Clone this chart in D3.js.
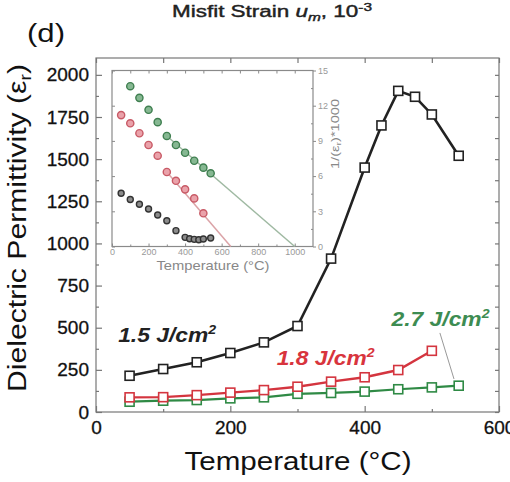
<!DOCTYPE html>
<html>
<head>
<meta charset="utf-8">
<script src="https://cdn.jsdelivr.net/npm/d3@7"></script>
<style>
  body { margin: 0; background: #fff; }
  svg { display: block; font-family: "Liberation Sans", Arial, sans-serif; }
</style>
</head>
<body>
<svg width="510" height="482"></svg>
<script>
// main plot data (temperature in C, dielectric permittivity)
const blackTemp = [50, 100, 150, 200, 250, 300, 350, 400, 425, 450, 475, 500, 540];
const blackEps = [215, 255, 295, 350, 413, 510, 910, 1450, 1700, 1905, 1870, 1765, 1520];
const redTemp = [50, 100, 150, 200, 250, 300, 350, 400, 450, 500];
const redEps = [87, 88, 100, 115, 130, 150, 180, 206, 249, 363];
const greenTemp = [50, 100, 150, 200, 250, 300, 350, 400, 450, 500, 540];
const greenEps = [61, 67, 71, 81, 87, 108, 113, 121, 135, 146, 156];

// inset data: 1000/eps
const insetBlackTemp = [50, 100, 150, 200, 250, 300, 350, 400, 425, 450, 475, 500, 540];
const insetBlackInv = [4.54, 4.0, 3.6, 3.2, 2.68, 2.2, 1.35, 0.78, 0.66, 0.61, 0.58, 0.64, 0.72];
const insetRedTemp = [50, 100, 150, 200, 250, 300, 350, 400, 450, 500];
const insetRedInv = [11.2, 10.5, 9.65, 8.65, 7.74, 6.35, 5.6, 4.87, 4.1, 2.83];
const insetGreenTemp = [100, 150, 200, 250, 300, 350, 400, 450, 500, 540];
const insetGreenInv = [13.66, 12.67, 11.65, 10.6, 9.42, 8.65, 7.99, 7.31, 6.72, 6.24];
const redFit = [[300, 6.35], [650, 0]];
const greenFit = [[300, 9.42], [1000, 0]];

// ticks
const xTicks = [0, 200, 400, 600];
const xMinor = [100, 300, 500];
const yTicks = [0, 250, 500, 750, 1000, 1250, 1500, 1750, 2000];
const yMinor = [125, 375, 625, 875, 1125, 1375, 1625, 1875];
const insetXTicks = [0, 200, 400, 600, 800, 1000];
const insetXMinor = [100, 300, 500, 700, 900];
const insetYTicks = [0, 3, 6, 9, 12, 15];
const insetYMinor = [1.5, 4.5, 7.5, 10.5, 13.5];

// labels
const seriesLabels = [
  { text: "1.5", t: 33, v: 415, color: "#222" },
  { text: "1.8", t: 269, v: 279, color: "#d8343d" },
  { text: "2.7", t: 440, v: 510, color: "#3d8c52" }
];
const pointer27 = [[512, 469], [533, 196]];

const svg = d3.select("svg");
const axisColor = "#777";
const fmt = d3.format("d");

let x = d3.scaleLinear().domain([0, 600]).range([96, 499]);
let y = d3.scaleLinear().domain([0, 2100]).range([412, 58]);

// frame
svg.append("rect")
    .attr("x", 96).attr("y", 58)
    .attr("width", 403).attr("height", 354)
    .attr("fill", "none").attr("stroke", axisColor).attr("stroke-width", 1.2);

function styleAxis(g, fontSize) {
    g.select(".domain").remove();
    g.selectAll(".tick line").attr("stroke", axisColor).attr("stroke-width", 1.2);
    g.selectAll(".tick text").attr("fill", "#111").attr("font-size", fontSize)
        .attr("font-family", "Liberation Sans, Arial, sans-serif")
        .attr("stroke", "#111").attr("stroke-width", 0.3);
}

// main axes, ticks pointing in
svg.append("g").attr("transform", "translate(0,412)")
    .call(d3.axisBottom(x).tickValues(xTicks).tickFormat(fmt).tickSize(-6).tickPadding(9))
    .call(g => styleAxis(g, 19));
svg.append("g").attr("transform", "translate(0,412)")
    .call(d3.axisBottom(x).tickValues(xMinor).tickSize(-3).tickFormat(""))
    .call(g => styleAxis(g, 19));
svg.append("g").attr("transform", "translate(0,58)")
    .call(d3.axisTop(x).tickValues(xTicks.concat(xMinor)).tickSize(-5).tickFormat(""))
    .call(g => styleAxis(g, 19));
svg.append("g").attr("transform", "translate(96,0)")
    .call(d3.axisLeft(y).tickValues(yTicks).tickFormat(fmt).tickSize(-6).tickPadding(7))
    .call(g => styleAxis(g, 19));
svg.append("g").attr("transform", "translate(96,0)")
    .call(d3.axisLeft(y).tickValues(yMinor).tickSize(-3).tickFormat(""))
    .call(g => styleAxis(g, 19));
svg.append("g").attr("transform", "translate(499,0)")
    .call(d3.axisRight(y).tickValues(yTicks.concat(yMinor)).tickSize(-4).tickFormat(""))
    .call(g => styleAxis(g, 19));

// axis titles
svg.append("text")
    .attr("transform", "translate(26,228)rotate(-90)")
    .attr("text-anchor", "middle")
    .attr("font-size", 25).attr("fill", "#111")
    .attr("textLength", 328).attr("lengthAdjust", "spacingAndGlyphs")
    .call(t => {
        t.append("tspan").text("Dielectric Permittivity (ε");
        t.append("tspan").attr("font-size", 16).attr("dy", 5).text("r");
        t.append("tspan").attr("dy", -5).text(")");
    });

svg.append("text")
    .attr("x", 298).attr("y", 470)
    .attr("text-anchor", "middle")
    .attr("font-size", 25).attr("fill", "#111")
    .attr("textLength", 227).attr("lengthAdjust", "spacingAndGlyphs")
    .text("Temperature (°C)");

svg.append("text")
    .attr("x", 27).attr("y", 42)
    .attr("font-size", 26).attr("fill", "#111")
    .attr("textLength", 38).attr("lengthAdjust", "spacingAndGlyphs")
    .text("(d)");

svg.append("text")
    .attr("x", 172).attr("y", 17)
    .attr("font-size", 16).attr("fill", "#222")
    .attr("stroke", "#222").attr("stroke-width", 0.4)
    .attr("textLength", 200).attr("lengthAdjust", "spacingAndGlyphs")
    .call(t => {
        t.append("tspan").text("Misfit Strain ");
        t.append("tspan").attr("font-style", "italic").text("u");
        t.append("tspan").attr("font-style", "italic").attr("font-size", 11).attr("dy", 4).text("m");
        t.append("tspan").attr("dy", -4).text(", 10");
        t.append("tspan").attr("font-size", 11).attr("dy", -6).text("-3");
    });

// inset
let xi = d3.scaleLinear().domain([0, 1100]).range([112, 313]);
let yi = d3.scaleLinear().domain([0, 15]).range([246.5, 70.5]);
const insetColor = "#8a8a8a";

svg.append("rect")
    .attr("x", 112).attr("y", 70.5)
    .attr("width", 201).attr("height", 176)
    .attr("fill", "#fff").attr("stroke", insetColor).attr("stroke-width", 1.2);

function styleInset(g) {
    g.select(".domain").remove();
    g.selectAll(".tick line").attr("stroke", insetColor).attr("stroke-width", 1);
    g.selectAll(".tick text").attr("fill", "#999").attr("font-size", 9)
        .attr("font-family", "Liberation Sans, Arial, sans-serif");
}

svg.append("g").attr("transform", "translate(0,246.5)")
    .call(d3.axisBottom(xi).tickValues(insetXTicks).tickFormat(fmt).tickSize(-3).tickPadding(2))
    .call(styleInset);
svg.append("g").attr("transform", "translate(0,246.5)")
    .call(d3.axisBottom(xi).tickValues(insetXMinor).tickSize(-2).tickFormat(""))
    .call(styleInset);
svg.append("g").attr("transform", "translate(0,70.5)")
    .call(d3.axisTop(xi).tickValues(insetXTicks.concat(insetXMinor)).tickSize(-3).tickFormat(""))
    .call(styleInset);
svg.append("g").attr("transform", "translate(112,0)")
    .call(d3.axisLeft(yi).tickValues(insetYTicks).tickSize(-3).tickFormat(""))
    .call(styleInset);
svg.append("g").attr("transform", "translate(313,0)")
    .call(d3.axisRight(yi).tickValues(insetYTicks).tickFormat(fmt).tickSize(3).tickPadding(2))
    .call(styleInset);
svg.append("g").attr("transform", "translate(313,0)")
    .call(d3.axisRight(yi).tickValues(insetYMinor).tickSize(-2).tickFormat(""))
    .call(styleInset);

svg.append("text")
    .attr("x", 213).attr("y", 270)
    .attr("text-anchor", "middle")
    .attr("font-size", 13).attr("fill", "#888")
    .attr("textLength", 113).attr("lengthAdjust", "spacingAndGlyphs")
    .text("Temperature (°C)");

svg.append("text")
    .attr("transform", "translate(339,134)rotate(-90)")
    .attr("text-anchor", "middle")
    .attr("font-size", 11).attr("fill", "#888")
    .attr("textLength", 70).attr("lengthAdjust", "spacingAndGlyphs")
    .call(t => {
        t.append("tspan").text("1/(ε");
        t.append("tspan").attr("font-size", 8).attr("dy", 2).text("r");
        t.append("tspan").attr("dy", -2).text(")*1000");
    });

let fitLine = d3.line().x(d => xi(d[0])).y(d => yi(d[1]));
svg.append("path").datum(greenFit).attr("d", fitLine)
    .attr("fill", "none").attr("stroke", "#9fb9a2").attr("stroke-width", 1.5);
svg.append("path").datum(redFit).attr("d", fitLine)
    .attr("fill", "none").attr("stroke", "#dba3a7").attr("stroke-width", 1.5);

function insetDots(temps, vals, fill, stroke, r) {
    svg.append("g").selectAll("circle")
        .data(temps.map((t, i) => [t, vals[i]]))
        .join("circle")
        .attr("cx", d => xi(d[0])).attr("cy", d => yi(d[1]))
        .attr("r", r)
        .attr("fill", fill).attr("stroke", stroke).attr("stroke-width", 1.4);
}
insetDots(insetGreenTemp, insetGreenInv, "#86b892", "#3f7f50", 3.6);
insetDots(insetRedTemp, insetRedInv, "#eaa2aa", "#c85a66", 3.6);
insetDots(insetBlackTemp, insetBlackInv, "#8c8c8c", "#333", 3);

// main series
let line = d3.line().x(d => x(d[0])).y(d => y(d[1]));
function series(temps, vals, color, width) {
    let pts = temps.map((t, i) => [t, vals[i]]);
    svg.append("path").datum(pts).attr("d", line)
        .attr("fill", "none").attr("stroke", color).attr("stroke-width", width);
    svg.append("g").selectAll("rect")
        .data(pts)
        .join("rect")
        .attr("x", d => x(d[0]) - 4.5).attr("y", d => y(d[1]) - 4.5)
        .attr("width", 9).attr("height", 9)
        .attr("fill", "#fff").attr("stroke", color).attr("stroke-width", 1.6);
}
series(greenTemp, greenEps, "#2f8a45", 2.2);
series(redTemp, redEps, "#d4353f", 2.4);
series(blackTemp, blackEps, "#222", 2.6);

// pointer for the 2.7 label
svg.append("path").datum(pointer27).attr("d", line)
    .attr("fill", "none").attr("stroke", "#999").attr("stroke-width", 1);

// series labels
seriesLabels.forEach(l => {
    svg.append("text")
        .attr("x", x(l.t)).attr("y", y(l.v))
        .attr("font-size", 21).attr("font-weight", "bold").attr("font-style", "italic")
        .attr("fill", l.color)
        .attr("textLength", 98).attr("lengthAdjust", "spacingAndGlyphs")
        .call(t => {
            t.append("tspan").text(l.text + " J/cm");
            t.append("tspan").attr("font-size", 13).attr("dy", -8).text("2");
        });
});
</script>
</body>
</html>
